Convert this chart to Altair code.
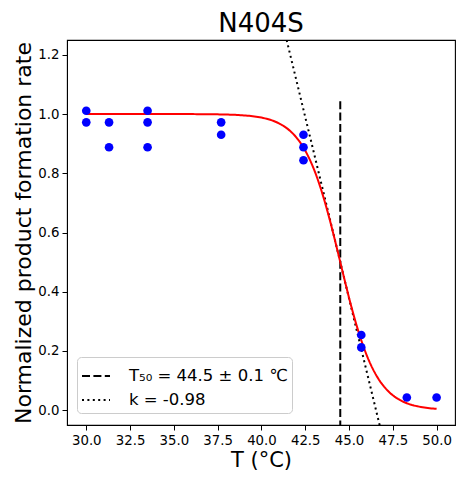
import altair as alt
import pandas as pd

# Measured data points
temps = [30.0, 30.0, 31.3, 31.3, 33.5, 33.5, 33.5, 37.7, 37.7, 42.4, 42.4, 42.4, 45.7, 45.7, 48.3, 50.0]
rates = [1.011, 0.972, 0.972, 0.888, 1.011, 0.972, 0.888, 0.972, 0.930, 0.930, 0.888, 0.844, 0.254, 0.212, 0.043, 0.043]

# Fit parameters (shown in legend)
T50 = 44.5
T50_ERR = 0.1
K = -0.98

# Fit curve sample temperatures and tangent endpoints
curve_T = [30 + 0.1 * i for i in range(201)]
tangent_T = [40.5, 47.5]
vline_y = [-0.1, 1.05]

label_t50 = "T₅₀ = 44.5 ± 0.1 ℃"
label_k = "k = -0.98"

pts = pd.DataFrame({"T": temps, "rate": rates})
curve = pd.DataFrame({"T": curve_T})
tangent = pd.DataFrame({"T": tangent_T, "series": [label_k] * 2})
vline = pd.DataFrame({"T": [T50, T50], "y": vline_y, "series": [label_t50] * 2})

xscale = alt.Scale(domain=[28.9, 51.05], nice=False, zero=False)
yscale = alt.Scale(domain=[-0.05, 1.25], nice=False, zero=False)

xaxis = alt.Axis(title="T (°C)", values=[30, 32.5, 35, 37.5, 40, 42.5, 45, 47.5, 50],
                 format=".1f", grid=False, titleFontSize=21, titleFontWeight="normal",
                 titlePadding=3)
yaxis = alt.Axis(title="Normalized product formation rate",
                 values=[0, 0.2, 0.4, 0.6, 0.8, 1.0, 1.2], format=".1f", grid=False,
                 titleFontSize=22, titleFontWeight="normal", titlePadding=2)

dash_scale = alt.Scale(domain=[label_t50, label_k], range=[[8, 3.4], [2, 3.4]])
legend = alt.Legend(title=None, orient="none", legendX=10, legendY=317,
                    symbolType="stroke", symbolSize=784, symbolStrokeWidth=2,
                    symbolStrokeColor="black", labelFontSize=16.5, labelFont="DejaVu Sans",
                    labelColor="black",
                    fillColor="white", strokeColor="#cccccc", cornerRadius=4,
                    padding=4, rowPadding=-1, labelOffset=18)

points = alt.Chart(pts).mark_circle(color="#0000ff", opacity=1, size=75).encode(
    x=alt.X("T:Q", scale=xscale, axis=xaxis),
    y=alt.Y("rate:Q", scale=yscale, axis=yaxis),
)

fit = alt.Chart(curve).transform_calculate(
    fit=f"1 / (1 + exp({-K} * (datum.T - {T50})))"
).mark_line(color="#ff0000", strokeWidth=2, clip=True).encode(
    x=alt.X("T:Q", scale=xscale),
    y=alt.Y("fit:Q", scale=yscale),
)

tan = alt.Chart(tangent).transform_calculate(
    ty=f"0.5 + {K} / 4 * (datum.T - {T50})"
).mark_line(color="black", strokeWidth=2, clip=True).encode(
    x=alt.X("T:Q", scale=xscale),
    y=alt.Y("ty:Q", scale=yscale),
    strokeDash=alt.StrokeDash("series:N", scale=dash_scale, legend=legend),
)

vl = alt.Chart(vline).mark_line(color="black", strokeWidth=2, clip=True).encode(
    x=alt.X("T:Q", scale=xscale),
    y=alt.Y("y:Q", scale=yscale),
    strokeDash=alt.StrokeDash("series:N", scale=dash_scale, legend=legend),
)

chart = alt.layer(vl, tan, fit, points).properties(
    width=388, height=385,
    title=alt.TitleParams("N404S", fontSize=26, fontWeight="normal", font="DejaVu Sans",
                          anchor="middle", offset=3),
    autosize=alt.AutoSizeParams(type="none"),
    padding={"left": 59, "top": 32, "right": 1, "bottom": 60},
).configure_axis(
    labelFont="DejaVu Sans", titleFont="DejaVu Sans", labelFontSize=13.3,
    labelColor="black", titleColor="black", domainColor="black", tickColor="black",
    tickSize=5, labelPadding=3,
).configure_view(stroke="black", strokeWidth=1.1)

chart.save("out.html", embed_options={"renderer": "svg", "actions": False})
